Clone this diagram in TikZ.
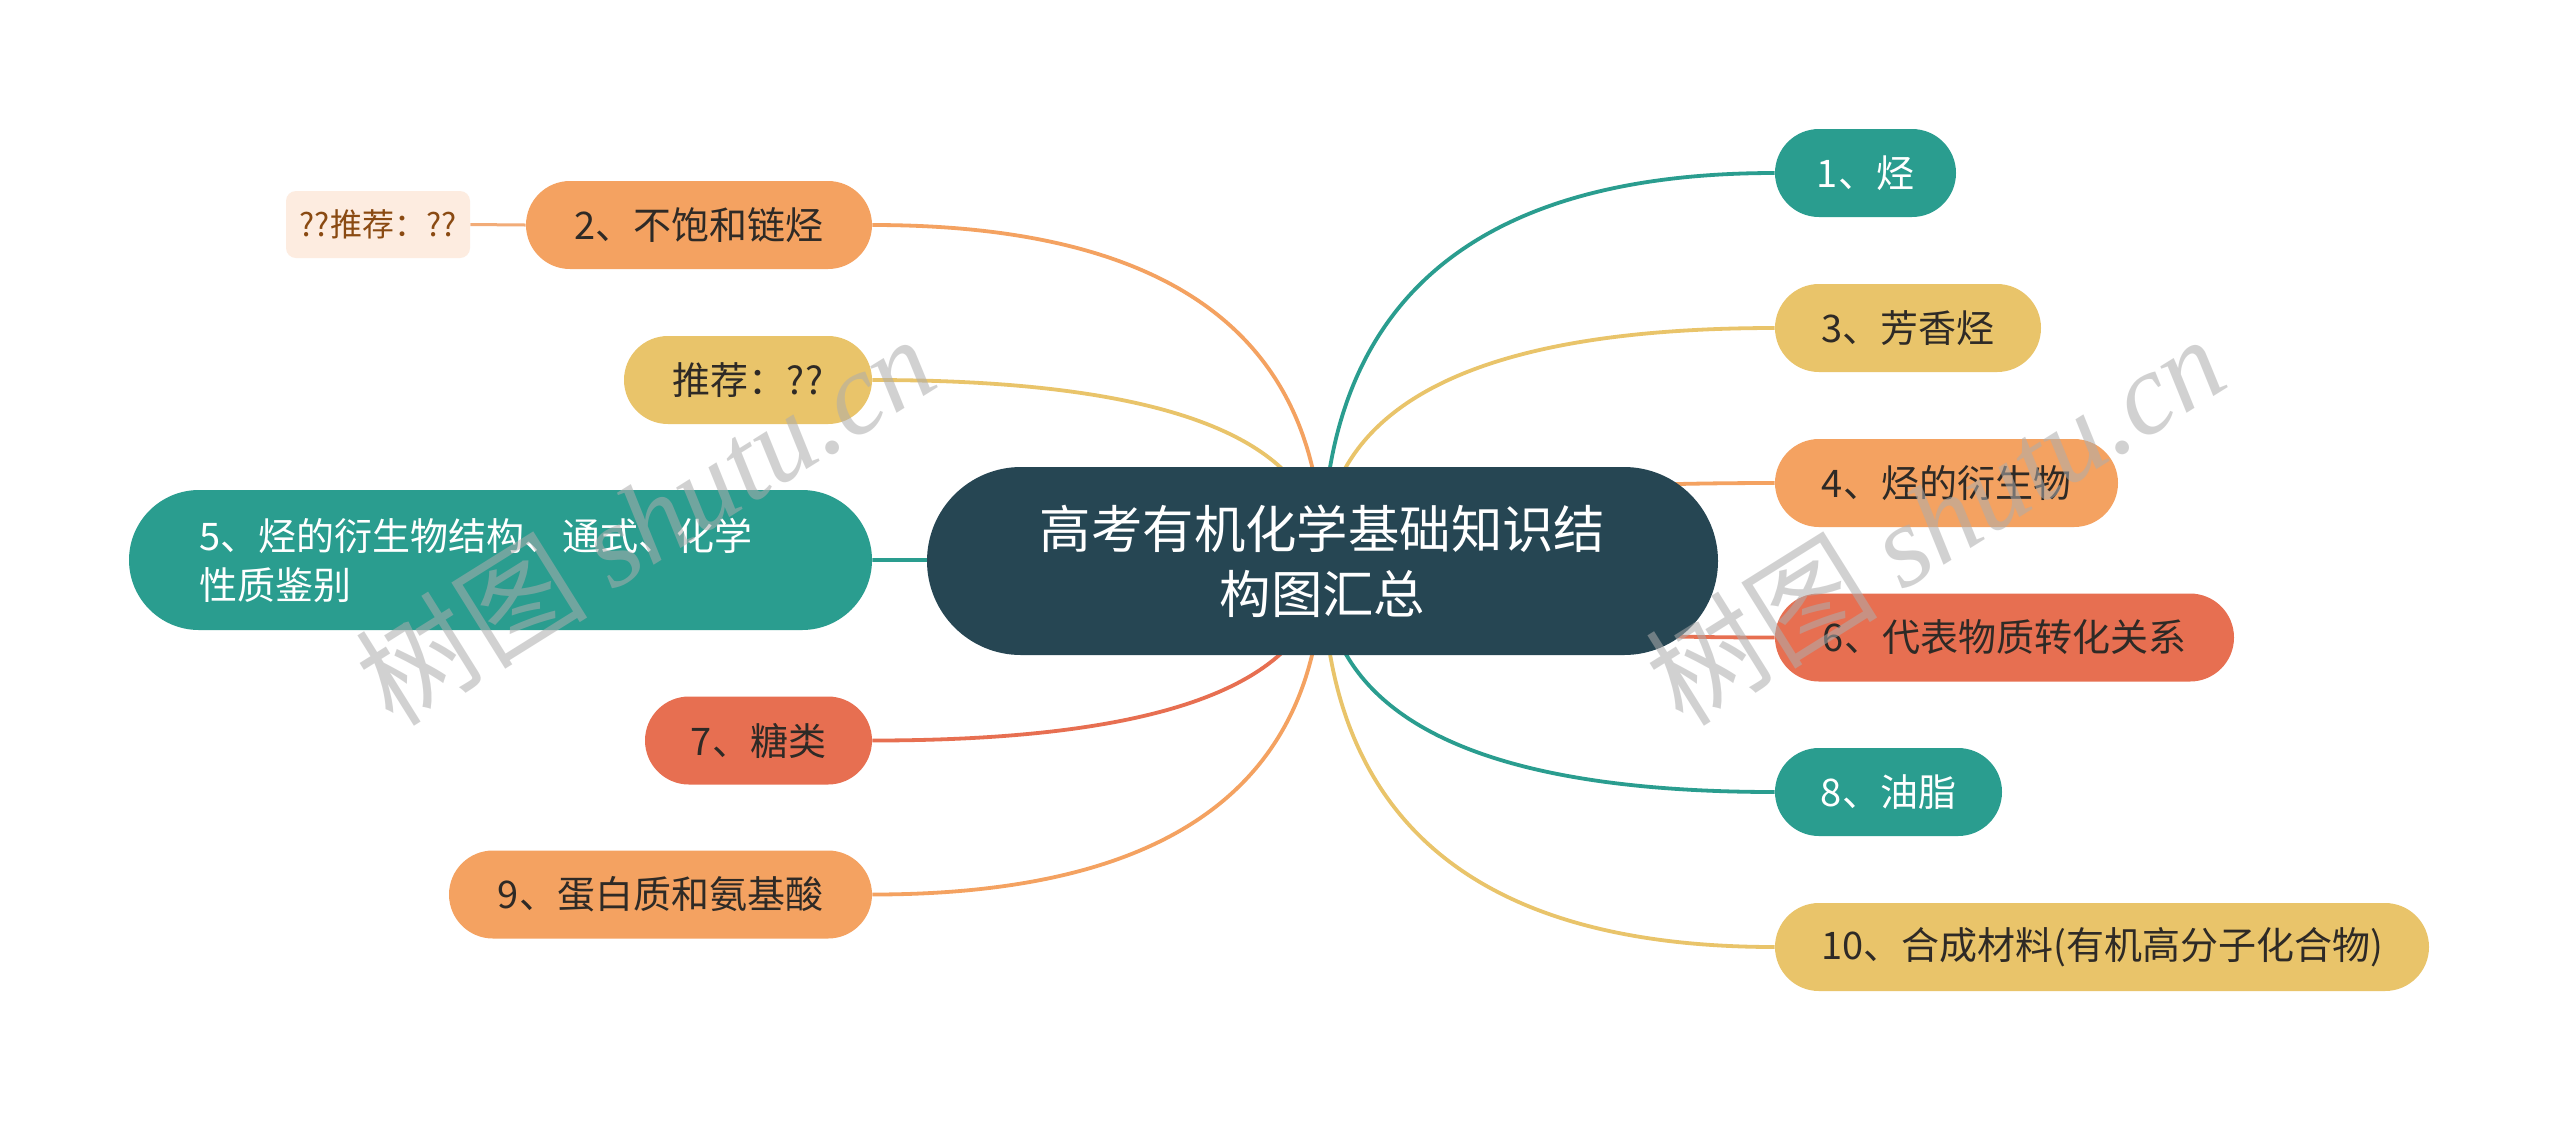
\documentclass[tikz,border=0pt]{standalone}
\usepackage{fontspec}
\setmainfont{Noto Sans CJK SC}
\newfontfamily\wmserif{Liberation Serif}
\usetikzlibrary{calc}
\definecolor{cteal}{HTML}{2A9D8F}
\definecolor{cyel}{HTML}{E9C46A}
\definecolor{corg}{HTML}{F4A261}
\definecolor{cred}{HTML}{E76F51}
\definecolor{cdark}{HTML}{264653}
\definecolor{ctxt}{HTML}{2E2A26}
\definecolor{cpeach}{HTML}{FDECE0}
\definecolor{cbrown}{HTML}{8A4A12}
\definecolor{clorg}{HTML}{F2AC78}
\pgfdeclarelayer{bg}
\pgfdeclarelayer{edges}
\pgfsetlayers{bg,edges,main}
\newcommand\mmlink[3]{\draw[link,draw=#3] (#1.center) .. controls ($(#1.center)!0.6667!(#1.center|-#2)$) and ($(#2)!0.6667!(#1.center|-#2)$) .. (#2);}
\begin{document}
\begin{tikzpicture}[x=0.5pt,y=-0.5pt,
  pill/.style={rectangle, rounded corners=22pt, minimum height=44pt, inner sep=0pt,
    font=\fontsize{19}{24}\selectfont, text=ctxt},
  tealnode/.style={pill, fill=cteal, text=white},
  yelnode/.style={pill, fill=cyel},
  orgnode/.style={pill, fill=corg},
  rednode/.style={pill, fill=cred},
  link/.style={line width=1.9pt},
  wm/.style={text=black!32, opacity=0.55, font=\fontsize{58}{60}\selectfont, rotate=32, inner sep=0pt}]
\begin{pgfonlayer}{bg}
\fill[white] (0,0) rectangle (2560,1121);
\end{pgfonlayer}
\useasboundingbox (0,0) rectangle (2560,1121);

% root
\node[pill, fill=cdark, text=white, minimum width=395.5pt, minimum height=94pt,
  rounded corners=47pt, align=center, font=\fontsize{25.7}{32.7}\selectfont]
  (root) at (1322.5,561) {高考有机化学基础知识结\\构图汇总};

% right children
\node[tealnode, minimum width=90.5pt] (n1) at (1865.5,173) {1、烃};
\node[yelnode, minimum width=133pt] (n3) at (1908,328) {3、芳香烃};
\node[orgnode, minimum width=171.5pt] (n4) at (1946.5,483) {4、烃的衍生物};
\node[rednode, minimum width=229.5pt] (n6) at (2004.5,637.5) {6、代表物质转化关系};
\node[tealnode, minimum width=113.5pt] (n8) at (1888.5,792) {8、油脂};
\node[yelnode, minimum width=327pt] (n10) at (2102,947) {10、合成材料(有机高分子化合物)};

% left children
\node[orgnode, minimum width=173pt] (n2) at (699,225) {2、不饱和链烃};
\node[rectangle, rounded corners=5pt, fill=cpeach, text=cbrown, minimum width=92pt,
  minimum height=33.5pt, inner sep=0pt, font=\fontsize{16}{18}\selectfont]
  (rec2) at (378,224.5) {??推荐：??};
\node[yelnode, minimum width=124pt] (nr) at (748,380) {推荐：??};
\node[tealnode, minimum width=371.5pt, minimum height=70pt, rounded corners=35pt,
  align=left, text width=301pt, font=\fontsize{19}{24.5}\selectfont]
  (n5) at (500.5,560) {5、烃的衍生物结构、通式、化学\\性质鉴别};
\node[rednode, minimum width=113.5pt] (n7) at (758.5,740.5) {7、糖类};
\node[orgnode, minimum width=211.5pt] (n9) at (660.5,894.5) {9、蛋白质和氨基酸};

\begin{pgfonlayer}{edges}
\mmlink{root}{n1.west}{cteal}
\mmlink{root}{n3.west}{cyel}
\mmlink{root}{n4.west}{corg}
\mmlink{root}{n6.west}{cred}
\mmlink{root}{n8.west}{cteal}
\mmlink{root}{n10.west}{cyel}
\mmlink{root}{n2.east}{corg}
\mmlink{root}{nr.east}{cyel}
\mmlink{root}{n5.east}{cteal}
\mmlink{root}{n7.east}{cred}
\mmlink{root}{n9.east}{corg}
\draw[line width=1.5pt, draw=clorg] (n2.west) -- (rec2.east);
\end{pgfonlayer}

% watermarks
\node[wm] (wm1) at (645,519) {树图 {\wmserif\itshape shutu.cn}};
\node[wm] (wm2) at (1935,519) {树图 {\wmserif\itshape shutu.cn}};
\end{tikzpicture}
\end{document}
